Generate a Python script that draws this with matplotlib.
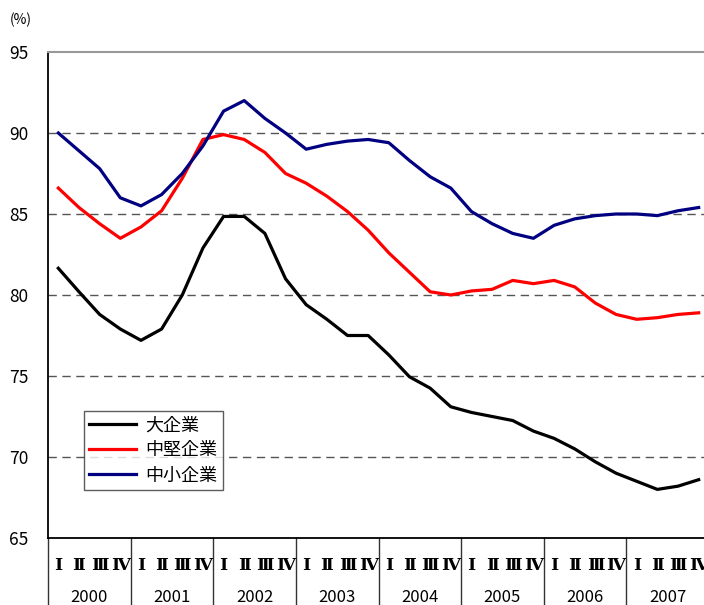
import matplotlib
matplotlib.use('Agg')
import matplotlib.pyplot as plt
import matplotlib.transforms as mtransforms

plt.rcParams['font.family'] = ['Noto Sans CJK JP', 'DejaVu Sans']

years = ['2000', '2001', '2002', '2003', '2004', '2005', '2006', '2007']
quarters = ['Ⅰ', 'Ⅱ', 'Ⅲ', 'Ⅳ']

large = [81.65, 80.2, 78.8, 77.9, 77.2, 77.9, 80.0, 82.9,
         84.85, 84.85, 83.8, 81.0, 79.4, 78.5, 77.5, 77.5,
         76.3, 74.95, 74.25, 73.1, 72.75, 72.5, 72.25, 71.6,
         71.15, 70.5, 69.7, 69.0, 68.5, 68.0, 68.2, 68.6]
mid = [86.6, 85.4, 84.4, 83.5, 84.2, 85.2, 87.2, 89.6,
       89.9, 89.6, 88.8, 87.5, 86.9, 86.1, 85.15, 84.0,
       82.6, 81.4, 80.2, 80.0, 80.25, 80.35, 80.9, 80.7,
       80.9, 80.5, 79.5, 78.8, 78.5, 78.6, 78.8, 78.9]
small = [90.0, 88.9, 87.8, 86.0, 85.5, 86.2, 87.5, 89.2,
         91.35, 92.0, 90.9, 90.0, 89.0, 89.3, 89.5, 89.6,
         89.4, 88.3, 87.3, 86.6, 85.15, 84.4, 83.8, 83.5,
         84.3, 84.7, 84.9, 85.0, 85.0, 84.9, 85.2, 85.4]

x = list(range(len(large)))

fig = plt.figure(figsize=(7.04, 6.05), dpi=100)
# plot area runs a little past the right edge of the figure
ax = fig.add_axes([48 / 704, 67 / 605, 661 / 704, 486 / 605])

ax.plot(x, large, color='black', lw=2.3, label='大企業')
ax.plot(x, mid, color='#ff0000', lw=2.3, label='中堅企業')
ax.plot(x, small, color='#000080', lw=2.3, label='中小企業')

ax.set_xlim(-0.5, len(x) - 0.5)
ax.set_ylim(65, 95)
ax.set_yticks([65, 70, 75, 80, 85, 90, 95])
ax.tick_params(axis='y', length=0, pad=14, labelsize=12.5)
ax.set_xticks([])

for v in [70, 75, 80, 85, 90]:
    ax.axhline(v, color='#555555', lw=1, ls=(0, (6, 4)), zorder=0)

ax.spines['top'].set_color('#999999')
ax.spines['top'].set_linewidth(1.5)
ax.spines['left'].set_linewidth(1.3)
ax.spines['bottom'].set_linewidth(1.3)
ax.spines['right'].set_visible(False)

# quarter / year category labels under the axis
trans = mtransforms.blended_transform_factory(ax.transData, ax.transAxes)
for i, yr in enumerate(years):
    for q, lab in enumerate(quarters):
        ax.text(i * 4 + q, -0.056, lab, transform=trans, ha='center',
                va='center', fontsize=12.5, fontweight='bold',
                family=['DejaVu Serif', 'Noto Sans CJK JP'])
    ax.text(i * 4 + 1.5, -0.123, yr, transform=trans, ha='center',
            va='center', fontsize=12)
for k in range(len(years) + 1):
    ax.plot([k * 4 - 0.5, k * 4 - 0.5], [0, -0.2], transform=trans,
            color='#333333', lw=1, clip_on=False)

fig.text(10 / 704, 1 - 20 / 605, '(%)', fontsize=10, va='center')

leg = ax.legend(loc='lower left', bbox_to_anchor=(36 / 661, 48 / 486),
                fontsize=13, frameon=True, fancybox=False,
                handlelength=2.6, borderpad=0.3, labelspacing=0.4,
                handletextpad=0.5, borderaxespad=0)
leg.get_frame().set_edgecolor('#333333')
leg.get_frame().set_linewidth(1)

fig.savefig('out.png', dpi=100)
